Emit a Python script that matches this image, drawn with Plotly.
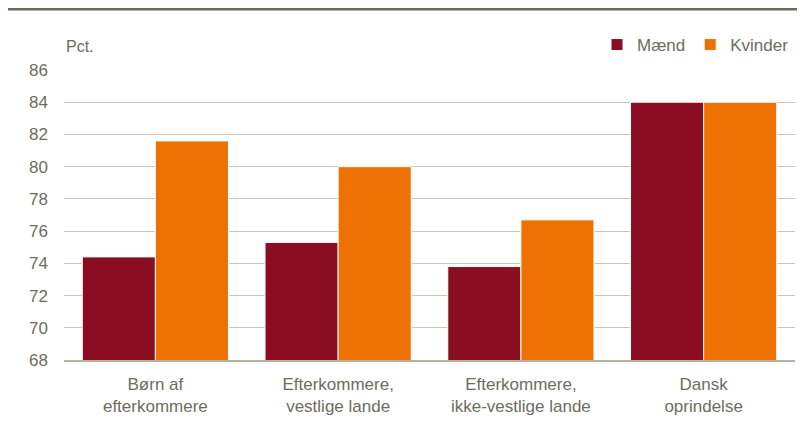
import plotly.graph_objects as go

categories = ["Børn af<br>efterkommere", "Efterkommere,<br>vestlige lande",
              "Efterkommere,<br>ikke-vestlige lande", "Dansk<br>oprindelse"]
maend = [74.4, 75.3, 73.8, 84.0]
kvinder = [81.6, 80.0, 76.7, 84.0]
tick_vals = [68, 70, 72, 74, 76, 78, 80, 82, 84, 86]

FONT = "Liberation Sans Narrow, Arial Narrow, Liberation Sans, Arial, sans-serif"
TXT = "#6e6c5f"

W, H = 797, 423
fig = go.Figure()
fig.add_trace(go.Bar(name="Mænd", x=categories, y=maend, marker_color="#8B0D22",
                     marker_line_color="white", marker_line_width=1))
fig.add_trace(go.Bar(name="Kvinder", x=categories, y=kvinder, marker_color="#EE7203",
                     marker_line_color="white", marker_line_width=1))

fig.update_layout(
    width=W, height=H,
    margin=dict(l=56, r=10, t=62, b=71, autoexpand=False),
    paper_bgcolor="white", plot_bgcolor="white",
    barmode="group", bargap=0.2, bargroupgap=0,
    font=dict(family=FONT, size=16, color=TXT),
    showlegend=True,
    legend=dict(orientation="h", xref="container", yref="container",
                x=786 / W, xanchor="right", y=1 - 37 / H, yanchor="middle",
                font=dict(size=17, color=TXT), traceorder="normal",
                itemwidth=30, bgcolor="rgba(0,0,0,0)"),
    xaxis=dict(showgrid=False, showline=True, linecolor="#b5b3a3", linewidth=1.5,
               ticks="", tickfont=dict(size=17, color=TXT), automargin=False,
               ticklabelstandoff=8),
    yaxis=dict(range=[68, 86], tickvals=tick_vals, showgrid=True, gridcolor="#c9c8b8",
               gridwidth=1.3, zeroline=False, showline=False, ticks="",
               tickfont=dict(size=17, color=TXT), ticklabelstandoff=15,
               automargin=False),
)

fig.add_annotation(text="Pct.", xref="paper", yref="paper", x=0.0, y=1 + 23 / 290,
                   xanchor="left", yanchor="middle", showarrow=False,
                   font=dict(size=16, color=TXT, family=FONT))

fig.add_shape(type="line", xref="paper", yref="paper",
              x0=-0.0807, x1=1.0027, y0=1.2103, y1=1.2103,
              line=dict(color="#6b6a5a", width=3))

fig.write_html("out.html")
